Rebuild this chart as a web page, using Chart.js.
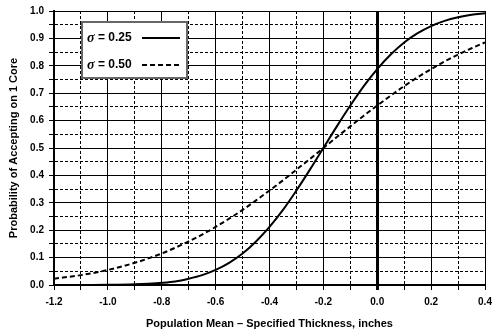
<!DOCTYPE html>
<html><head><meta charset="utf-8">
<script src="https://cdn.jsdelivr.net/npm/chart.js@4/dist/chart.umd.min.js"></script>
<style>html,body{margin:0;padding:0;background:#fff}#wrap{width:500px;height:333px}</style>
</head><body><div id="wrap"><canvas id="c" width="500" height="333"></canvas></div>
<script>
const xValues = [-1.2,-1.1,-1.0,-0.9,-0.85,-0.8,-0.75,-0.7,-0.65,-0.6,-0.55,-0.5,-0.45,-0.4,-0.35,-0.3,-0.25,-0.2,-0.15,-0.1,-0.05,0.0,0.05,0.1,0.15,0.2,0.25,0.3,0.35,0.4];
const sigma025 = [0.000,0.000,0.001,0.003,0.005,0.008,0.013,0.023,0.036,0.055,0.081,0.115,0.159,0.212,0.274,0.345,0.421,0.500,0.579,0.655,0.726,0.788,0.841,0.885,0.919,0.945,0.964,0.977,0.986,0.992];
const sigma050 = [0.023,0.036,0.055,0.081,0.097,0.115,0.136,0.159,0.184,0.212,0.242,0.274,0.309,0.345,0.382,0.421,0.460,0.500,0.540,0.579,0.618,0.655,0.691,0.726,0.758,0.788,0.816,0.841,0.864,0.885];
const seriesLabels = ["= 0.25","= 0.50"];
const xTicks = {min:-1.2, max:0.4, step:0.1};
const yTicks = {min:0, max:1.0, step:0.05};

const FONT = "'Liberation Sans', Arial, sans-serif";
const toPts = arr => xValues.map((x,i)=>({x:x,y:arr[i]}));

const legendBox = {
  id:'legendBox',
  afterDatasetsDraw(chart){
    const ctx = chart.ctx;
    const L = 82, T = 22, W = 105, H = 56;
    ctx.save();
    ctx.fillStyle = '#fff';
    ctx.fillRect(L,T,W,H);
    ctx.strokeStyle = '#666';
    ctx.lineWidth = 2;
    ctx.strokeRect(L,T,W,H);
    chart.data.datasets.forEach((ds,i)=>{
      const cy = T + 16 + i*27;
      ctx.fillStyle = '#000';
      ctx.textBaseline = 'middle';
      ctx.font = "bold italic 14px 'Liberation Serif', serif";
      ctx.fillText('σ', 87, cy);
      const sw = ctx.measureText('σ').width;
      ctx.font = "bold 12px " + FONT;
      ctx.fillText(' ' + ds.label, 87 + sw, cy);
      ctx.beginPath();
      ctx.strokeStyle = '#000';
      ctx.lineWidth = 2;
      ctx.setLineDash(ds.borderDash || []);
      ctx.moveTo(142, cy);
      ctx.lineTo(180, cy);
      ctx.stroke();
      ctx.setLineDash([]);
    });
    ctx.restore();
  }
};

new Chart(document.getElementById('c'), {
  type:'line',
  data:{
    datasets:[
      {label:seriesLabels[0], data:toPts(sigma025), borderColor:'#000', borderWidth:2, pointRadius:0, cubicInterpolationMode:'monotone', fill:false},
      {label:seriesLabels[1], data:toPts(sigma050), borderColor:'#000', borderWidth:2, borderDash:[5,3], pointRadius:0, cubicInterpolationMode:'monotone', fill:false}
    ]
  },
  options:{
    responsive:false,
    animation:false,
    layout:{padding:{top:10,right:15,left:0,bottom:0}},
    plugins:{legend:{display:false}, tooltip:{enabled:false}},
    scales:{
      x:{
        type:'linear', min:xTicks.min, max:xTicks.max,
        afterFit(s){ s.height = 48; },
        ticks:{stepSize:xTicks.step, autoSkip:false, maxRotation:0, padding:6, color:'#000',
          font:{family:FONT, size:10, weight:'bold'},
          callback:v=>{ const k=Math.round(v*10); return Math.abs(k)%2===0 ? (k/10).toFixed(1) : ''; }},
        grid:{color:'#000', tickColor:'#000', tickLength:5,
          lineWidth:c=>{ if(!c.tick) return 1; return Math.round(c.tick.value*10)===0 ? 3 : 1; }},
        border:{color:'#000', width:2,
          dash:c=>{ if(!c.tick) return []; const k=Math.round(c.tick.value*10); return Math.abs(k)%2===1 ? [3,2] : []; }},
        title:{display:true, text:'Population Mean – Specified Thickness, inches', color:'#000',
          font:{family:FONT, size:11, weight:'bold'}, padding:{top:0,bottom:2}}
      },
      y:{
        type:'linear', min:yTicks.min, max:yTicks.max,
        afterFit(s){ s.width = 54; },
        ticks:{stepSize:yTicks.step, autoSkip:false, padding:5, color:'#000',
          font:{family:FONT, size:10, weight:'bold'},
          callback:v=>{ const k=Math.round(v*100); return k%10===0 ? (k/100).toFixed(1) : ''; }},
        grid:{color:'#000', tickColor:'#000', tickLength:5, lineWidth:1},
        border:{color:'#000', width:2,
          dash:c=>{ if(!c.tick) return []; const k=Math.round(c.tick.value*100); return k%10!==0 ? [3,2] : []; }},
        title:{display:true, text:'Probability of Accepting on 1 Core', color:'#000',
          font:{family:FONT, size:11, weight:'bold'}, padding:{top:7,bottom:0}}
      }
    }
  },
  plugins:[legendBox]
});
</script></body></html>
